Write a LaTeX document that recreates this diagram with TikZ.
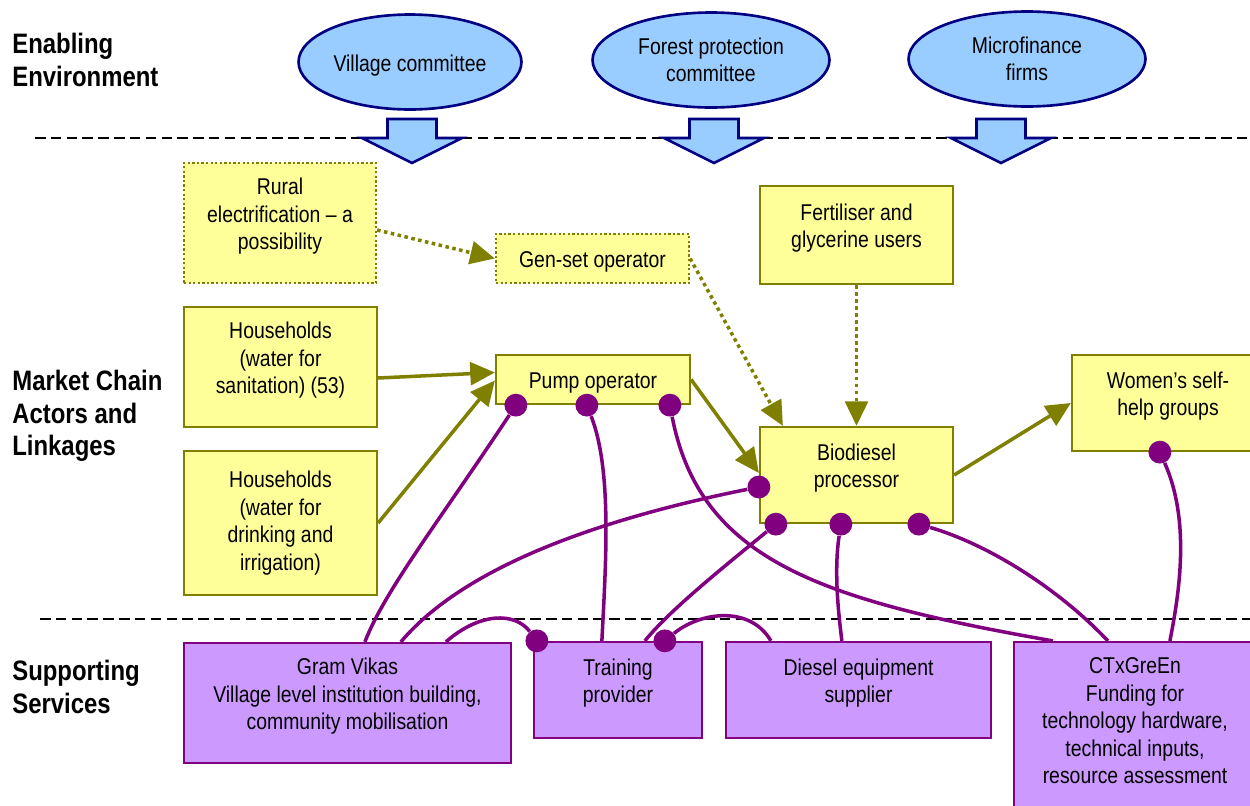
\documentclass[tikz,border=0pt]{standalone}
\usepackage{fontspec}
\setmainfont{Liberation Sans}[FakeStretch=0.85]
\usetikzlibrary{arrows.meta, calc, shapes.geometric}

\definecolor{olivelink}{HTML}{808000}
\definecolor{actorfill}{HTML}{FFFF99}
\definecolor{servline}{HTML}{800080}
\definecolor{servfill}{HTML}{CC99FF}
\definecolor{instline}{HTML}{000080}
\definecolor{instfill}{HTML}{99CCFF}

\newcommand{\boxfont}{\fontsize{13}{15.6}\selectfont}
\newcommand{\levelfont}{\fontsize{16}{18.4}\selectfont\bfseries}

\tikzset{
  level/.style={anchor=west, align=left, inner sep=0pt, font=\levelfont},
  divider/.style={black, line width=1pt, dash pattern=on 6pt off 3pt},
  inst/.style={ellipse, draw=instline, fill=instfill, line width=1.5pt, inner sep=0pt,
    minimum height=1.9cm, align=center, font=\boxfont},
  influence/.style={draw=instline, fill=instfill, line width=1.5pt, line join=miter},
  actor/.style={rectangle, draw=olivelink, fill=actorfill, line width=1.3pt,
    align=center, font=\boxfont},
  possible/.style={dash pattern=on 1.3pt off 1.3pt},
  service/.style={rectangle, draw=servline, fill=servfill, line width=1.3pt,
    align=center, font=\boxfont},
  lift/.style={execute at end node={\rule[-10.5pt]{0pt}{0pt}}},
  sink/.style={execute at begin node={\rule{0pt}{13pt}}},
  feeds/.style={draw=olivelink, line width=2pt,
    -{Triangle[length=14pt, width=13pt]}},
  maybe/.style={feeds, dash pattern=on 2pt off 2pt},
  support/.style={draw=servline, line width=2pt},
  dot/.style={circle, fill=servline, inner sep=0pt, minimum size=13pt},
}

\begin{document}
\begin{tikzpicture}[x=0.02cm, y=-0.02cm]
  \useasboundingbox (0,0) rectangle (1250,805);
  \clip (0,0) rectangle (1250,805);

  % levels
  \node[level] (env) at (12,60) {Enabling\\Environment};
  \node[level] (chain) at (12,416) {Market Chain\\Actors and\\Linkages};
  \node[level] (serv) at (12,687) {Supporting\\Services};

  \draw[divider] (35,138) -- (1250,138);
  \draw[divider] (40,619) -- (1250,619);

  % enabling environment
  \node[inst, sink, minimum width=4.46cm] (vc) at (410,62) {Village committee};
  \node[inst, minimum width=4.74cm] (fpc) at (711,60) {Forest protection\\committee};
  \node[inst, minimum width=4.74cm] (mf) at (1027,59) {Microfinance\\firms};

  \draw[influence] (387.5,119) -- ++(49,0) -- ++(0,19) -- ++(25.5,0) -- ++(-50,25) -- ++(-50,-25) -- ++(25.5,0) -- cycle;
  \draw[influence] (689.5,119) -- ++(49,0) -- ++(0,19) -- ++(25.5,0) -- ++(-50,25) -- ++(-50,-25) -- ++(25.5,0) -- cycle;
  \draw[influence] (976.5,119) -- ++(49,0) -- ++(0,19) -- ++(25.5,0) -- ++(-50,25) -- ++(-50,-25) -- ++(25.5,0) -- cycle;

  % market chain actors
  \node[actor, possible, lift, minimum width=3.84cm, minimum height=2.4cm] (rural) at (280,223) {Rural\\electrification -- a\\possibility};
  \node[actor, possible, sink, minimum width=3.86cm, minimum height=0.98cm] (genset) at (592.5,258.5) {Gen-set operator};
  \node[actor, lift, minimum width=3.86cm, minimum height=1.96cm] (fert) at (856.5,235) {Fertiliser and\\glycerine users};
  \node[actor, lift, minimum width=3.86cm, minimum height=2.4cm] (hhs) at (280.5,367) {Households\\(water for\\sanitation) (53)};
  \node[actor, minimum width=3.86cm, minimum height=2.88cm] (hhd) at (280.5,523) {Households\\(water for\\drinking and\\irrigation)};
  \node[actor, sink, minimum width=3.88cm, minimum height=0.98cm] (pump) at (593,379.5) {Pump operator};
  \node[actor, lift, minimum width=3.86cm, minimum height=1.92cm] (bio) at (856.5,475) {Biodiesel\\processor};
  \node[actor, lift, minimum width=3.84cm, minimum height=1.92cm] (women) at (1168,403) {Women’s self-\\help groups};

  \draw[feeds] ($(hhs.east)+(0,11)$) -- ($(pump.west)+(0,-7)$);
  \draw[feeds] (hhd.east) -- ($(pump.west)+(0,1)$);
  \draw[feeds] (pump.east) -- ($(bio.west)+(0,-2)$);
  \draw[feeds] (bio.east) -- (women.west);
  \draw[maybe] ($(rural.east)+(0,7)$) -- (genset.west);
  \draw[maybe] (genset.east) -- ($(bio.north west)+(24,0)$);
  \draw[maybe] (fert.south) -- (bio.north);

  % supporting services
  \node[service, lift, minimum width=6.54cm, minimum height=2.4cm] (gv) at (347.5,703) {Gram Vikas\\Village level institution building,\\community mobilisation};
  \node[service, lift, minimum width=3.36cm, minimum height=1.92cm] (tp) at (618,690) {Training\\provider};
  \node[service, lift, minimum width=5.3cm, minimum height=1.92cm] (des) at (858.5,690) {Diesel equipment\\supplier};
  \node[service, lift, minimum width=4.84cm, minimum height=3.52cm] (ctx) at (1135,730) {CTxGreEn\\Funding for\\technology hardware,\\technical inputs,\\resource assessment};

  \node[dot] (pd1) at ($(pump.south west)+(21,0)$) {};
  \node[dot] (pd2) at ($(pump.south west)+(92,0)$) {};
  \node[dot] (pd3) at ($(pump.south west)+(175,0)$) {};
  \node[dot] (bd1) at ($(bio.west)+(0,12)$) {};
  \node[dot] (bd2) at ($(bio.south west)+(17,0)$) {};
  \node[dot] (bd3) at ($(bio.south west)+(82,0)$) {};
  \node[dot] (bd4) at ($(bio.south west)+(160,0)$) {};
  \node[dot] (wd) at ($(women.south west)+(89,0)$) {};
  \node[dot] (td1) at ($(tp.north west)+(4,0)$) {};
  \node[dot] (td2) at ($(tp.north west)+(132,0)$) {};

  \draw[support] (pd1) .. controls (440,520) and (385,590) .. ($(gv.north west)+(182,0)$);
  \draw[support] (pd2) .. controls (612,470) and (606,560) .. ($(tp.north west)+(69,0)$);
  \draw[support] (pd3) .. controls (700,560) and (820,600) .. ($(ctx.north west)+(40,0)$);
  \draw[support] (bd1) .. controls (620,515) and (470,560) .. ($(gv.north west)+(218,0)$);
  \draw[support] (bd2) .. controls (720,570) and (670,610) .. ($(tp.north west)+(112,0)$);
  \draw[support] (bd3) .. controls (834,570) and (838,610) .. ($(des.north west)+(117,0)$);
  \draw[support] (bd4) .. controls (990,545) and (1060,590) .. ($(ctx.north west)+(95,0)$);
  \draw[support] (wd) .. controls (1190,520) and (1180,590) .. ($(ctx.north west)+(157,0)$);
  \draw[support] (td1) .. controls (515,612) and (480,612) .. ($(gv.north west)+(263,0)$);
  \draw[support] (td2) .. controls (700,612) and (750,605) .. ($(des.north west)+(46,0)$);
\end{tikzpicture}
\end{document}
